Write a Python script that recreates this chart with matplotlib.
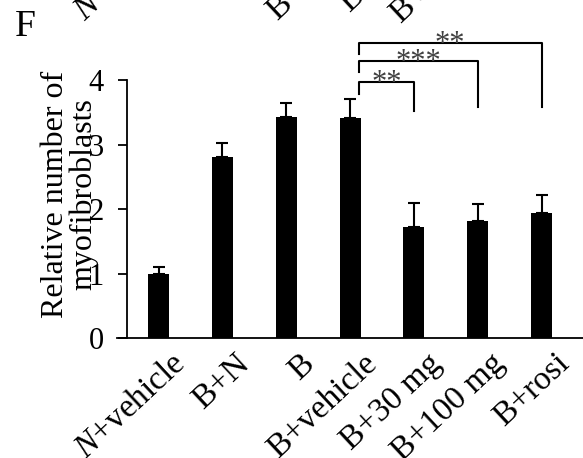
import matplotlib
matplotlib.use('Agg')
import matplotlib.pyplot as plt
import matplotlib.transforms as mtransforms
import numpy as np

plt.rcParams['font.family'] = 'Liberation Serif'
plt.rcParams['mathtext.fontset'] = 'custom'
plt.rcParams['mathtext.rm'] = 'Liberation Serif'
plt.rcParams['mathtext.it'] = 'Liberation Serif:italic'

# data
groups = [r'$\it{N}$+vehicle', 'B+N', 'B', 'B+vehicle', 'B+30 mg', 'B+100 mg', 'B+rosi']
values = [1.00, 2.80, 3.43, 3.41, 1.73, 1.82, 1.94]
errors = [0.10, 0.23, 0.22, 0.30, 0.36, 0.26, 0.28]
# significance brackets: (from, to, height, label)
comparisons = [(3, 4, 3.97, '**'), (3, 5, 4.30, '***'), (3, 6, 4.58, '**')]

fig = plt.figure(figsize=(5.83, 4.58), dpi=100)
ax = fig.add_axes([117.3 / 583, 119.7 / 458, 1 - 117.3 / 583, 258.3 / 458])

x = np.arange(len(groups))
ax.bar(x, values, width=0.33, color='black',
       yerr=[np.zeros(len(values)), errors], capsize=4.3,
       error_kw=dict(elinewidth=1.5, capthick=1.5, ecolor='black'))

ax.set_xlim(-0.647, 6.65)
ax.set_ylim(0, 4)
ax.spines['top'].set_visible(False)
ax.spines['right'].set_visible(False)
ax.spines['left'].set_position(('data', -0.5))
ax.spines['left'].set_linewidth(1.3)
ax.spines['bottom'].set_linewidth(1.3)
ax.set_yticks([0, 1, 2, 3, 4])
ax.set_yticklabels(['0', '1', '2', '3', '4'], fontsize=22)
ax.tick_params(axis='y', direction='out', length=6.5, width=1.3, pad=10)
ax.set_xticks([])

# rotated category labels (and the clipped ones of the panel above)
for dy_px, dx_px in [(-21, 23), (417, 22)]:
    tr = mtransforms.offset_copy(ax.transData, fig=fig, x=dx_px, y=dy_px, units='dots')
    for i, g in enumerate(groups):
        ax.text(x[i], 0, g, transform=tr, rotation=43, rotation_mode='anchor',
                ha='right', va='center', fontsize=24, clip_on=False)

# brackets
for a, b, h, lab in comparisons:
    xl = a + 0.14
    ax.plot([xl, xl, b, b], [h - 0.18, h, h, 3.58 if b > 4 else 3.52],
            color='black', lw=1.5, clip_on=False)
    ax.text((xl + b) / 2, h - 0.25, lab, ha='center', va='bottom',
            fontsize=22, color='#404040', clip_on=False)

fig.text(70 / 583, 1 - 194 / 458, 'Relative number of\nmyofibroblasts', rotation=90,
         ha='center', va='center', fontsize=23, linespacing=0.95)
fig.text(15 / 583, 1 - 36 / 458, 'F', fontsize=27, ha='left', va='baseline')

fig.savefig('out.png', dpi=100)
